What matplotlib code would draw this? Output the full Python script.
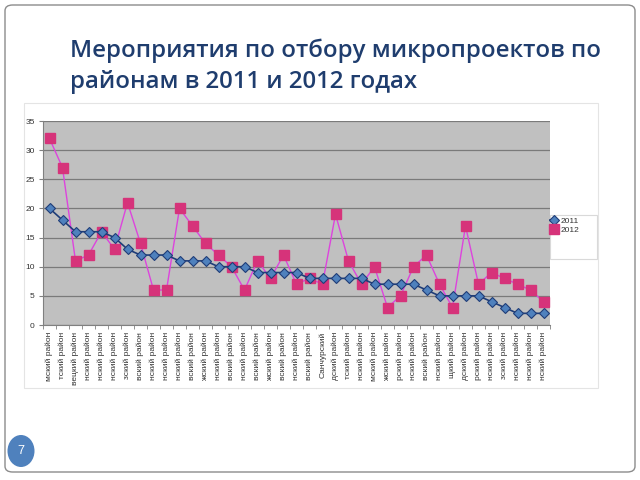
import matplotlib.pyplot as plt
from matplotlib.patches import Rectangle, FancyBboxPatch, Ellipse
import numpy as np

# districts (only the visible, clipped ends of the labels)
districts = [
    'мский район', 'тский район', 'вецкий район', 'нский район', 'нский район',
    'нский район', 'зский район', 'вский район', 'нский район', 'нский район',
    'нский район', 'вский район', 'жский район', 'нский район', 'вский район',
    'нский район', 'вский район', 'жский район', 'вский район', 'нский район',
    'вский район', 'Санчурский', 'дский район', 'тский район', 'нский район',
    'мский район', 'жский район', 'рский район', 'нский район', 'вский район',
    'нский район', 'щкий район', 'дский район', 'рский район', 'нский район',
    'зский район', 'нский район', 'нский район', 'нский район',
]
y2011 = [20, 18, 16, 16, 16, 15, 13, 12, 12, 12, 11, 11, 11, 10, 10, 10, 9, 9, 9, 9,
         8, 8, 8, 8, 8, 7, 7, 7, 7, 6, 5, 5, 5, 5, 4, 3, 2, 2, 2]
y2012 = [32, 27, 11, 12, 16, 13, 21, 14, 6, 6, 20, 17, 14, 12, 10, 6, 11, 8, 12, 7,
         8, 7, 19, 11, 7, 10, 3, 5, 10, 12, 7, 3, 17, 7, 9, 8, 7, 6, 4]

title = 'Мероприятия по отбору микропроектов по\nрайонам в 2011 и 2012 годах'

W, H = 640, 480
fig = plt.figure(figsize=(6.4, 4.8), dpi=100)

def fx(px):
    return px / W

def fy(py):
    return 1 - py / H

# slide frame
fig.patches.append(FancyBboxPatch((fx(5), fy(472)), fx(630), 467 / H,
                                  boxstyle='round,pad=0,rounding_size=0.012',
                                  transform=fig.transFigure, facecolor='white',
                                  edgecolor='#8c8c8c', lw=1.0, zorder=0))
# chart container
fig.patches.append(Rectangle((fx(24), fy(388)), fx(574), 285 / H,
                             transform=fig.transFigure, facecolor='white',
                             edgecolor='#e4e4e4', lw=0.8, zorder=1))
# legend box
fig.patches.append(Rectangle((fx(550), fy(259)), fx(47), 44 / H,
                             transform=fig.transFigure, facecolor='white',
                             edgecolor='#d9d9d9', lw=0.8, zorder=1))

fig.text(fx(70), fy(66), title, fontsize=17.3, color='#1f3d6e',
         family=['Open Sans', 'DejaVu Sans'], fontweight='semibold',
         ha='left', va='center', linespacing=1.4)

ax = fig.add_axes([fx(43), fy(325), fx(507), 204 / H])
ax.set_zorder(2)
ax.set_facecolor('#c0c0c0')

x = np.arange(len(districts))
ax.plot(x, y2011, color='#1f3d78', lw=1.2, marker='D', ms=5.5,
        mfc='#4f81bd', mec='#1f3d78', mew=0.8, label='2011', zorder=4)
ax.plot(x, y2012, color='#dd44dd', lw=1.0, marker='s', ms=7.5,
        mfc='#d6337a', mec='#d6337a', label='2012', zorder=3)

ax.set_xlim(-0.5, len(districts) - 0.5)
ax.set_ylim(0, 35)
ax.set_yticks(range(0, 36, 5))
ax.yaxis.grid(True, color='#7a7a7a', lw=0.9)
ax.set_axisbelow(True)

ax.set_xticks(x)
ax.set_xticklabels(districts, rotation=90, fontsize=6, color='#333333',
                   family='Liberation Sans')
ax.set_xticks(np.arange(-0.5, len(districts), 1), minor=True)
ax.tick_params(axis='x', which='major', length=0, pad=5)
ax.tick_params(axis='x', which='minor', length=3, color='#808080')
ax.tick_params(axis='y', length=3, color='#808080', labelsize=6,
               labelcolor='#333333', pad=3)
for lbl in ax.get_yticklabels():
    lbl.set_family('Liberation Sans')

for side in ['top', 'right']:
    ax.spines[side].set_visible(False)
ax.spines['left'].set_color('#808080')
ax.spines['bottom'].set_color('#808080')

leg = ax.legend(loc='upper left', bbox_to_anchor=(fx(547), fy(214)),
                bbox_transform=fig.transFigure, frameon=False,
                prop={'family': 'Liberation Sans', 'size': 6},
                handlelength=0.9, handletextpad=0.3, labelspacing=0.15,
                borderaxespad=0)
for t in leg.get_texts():
    t.set_color('#333333')

# slide number
fig.patches.append(Ellipse((fx(21), fy(451)), fx(27), 32 / H,
                           transform=fig.transFigure, facecolor='#4f81bd',
                           edgecolor='none', zorder=2))
fig.text(fx(21), fy(451), '7', color='white', fontsize=9, ha='center',
         va='center', family='Liberation Sans')

fig.savefig('out.png', dpi=100)
